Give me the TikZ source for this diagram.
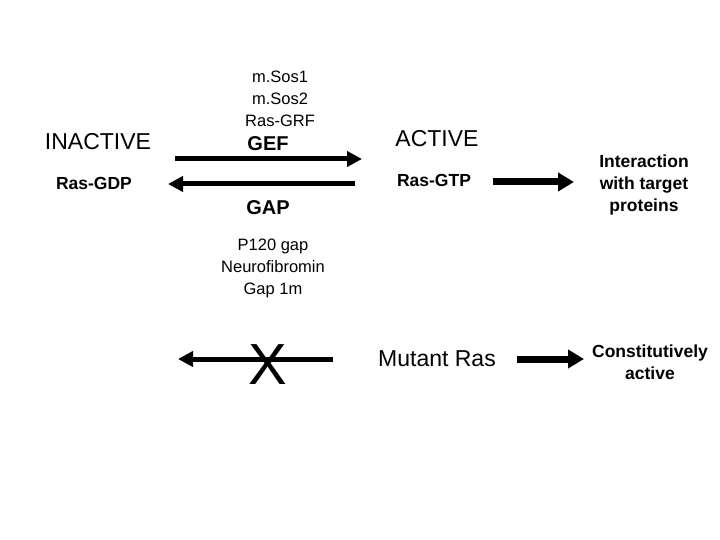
\documentclass[tikz,border=0pt]{standalone}
\usepackage{fontspec}
\setmainfont{Liberation Sans}
\usetikzlibrary{arrows.meta}
\tikzset{
  big/.style={font=\fontsize{23}{27}\selectfont},
  small/.style={font=\fontsize{16.5}{22}\selectfont, align=center},
  bold/.style={font=\fontsize{17.5}{22}\selectfont\bfseries, align=center},
  enz/.style={font=\fontsize{20}{24}\selectfont\bfseries},
  thin arrow/.style={line width=5pt, -{Triangle[length=15pt,width=15pt]}},
  thick arrow/.style={line width=7pt, -{Triangle[length=16pt,width=18pt]}}
}
\begin{document}
\begin{tikzpicture}[x=1pt,y=1pt]
\useasboundingbox (0,0) rectangle (720,-540);
\node[small] (gefs) at (280,-99) {m.Sos1\\m.Sos2\\Ras-GRF};
\node[big] (inactive) at (98,-142) {INACTIVE};
\node[enz] (gef) at (268,-144) {GEF};
\node[big] (active) at (437,-139) {ACTIVE};
\node[bold] (rasgdp) at (94,-183) {Ras-GDP};
\node[bold] (rasgtp) at (434,-180) {Ras-GTP};
\node[enz] (gap) at (268,-208) {GAP};
\node[bold] (target) at (644,-185) {Interaction\\with target\\proteins};
\node[small] (gaps) at (273,-268) {P120 gap\\Neurofibromin\\Gap 1m};
\node[big] (mutant) at (437,-359) {Mutant Ras};
\node[bold] (constit) at (650,-362) {Constitutively\\active};
\coordinate (f1) at (175,-159);
\coordinate (f2) at (362,-159);
\coordinate (b1) at (355,-184);
\coordinate (b2) at (168,-184);
\coordinate (t1) at (493,-182);
\coordinate (t2) at (574,-182);
\coordinate (m1) at (333,-359);
\coordinate (m2) at (178,-359);
\coordinate (c1) at (517,-359);
\coordinate (c2) at (584,-359);
\draw[thin arrow] (f1) -- (f2);
\draw[thin arrow] (b1) -- (b2);
\draw[thick arrow] (t1) -- (t2);
\draw[thin arrow] (m1) -- (m2);
\draw[thick arrow] (c1) -- (c2);
\node[font=\fontsize{58}{58}\selectfont] (cross) at (268,-365) {X};
\end{tikzpicture}
\end{document}
